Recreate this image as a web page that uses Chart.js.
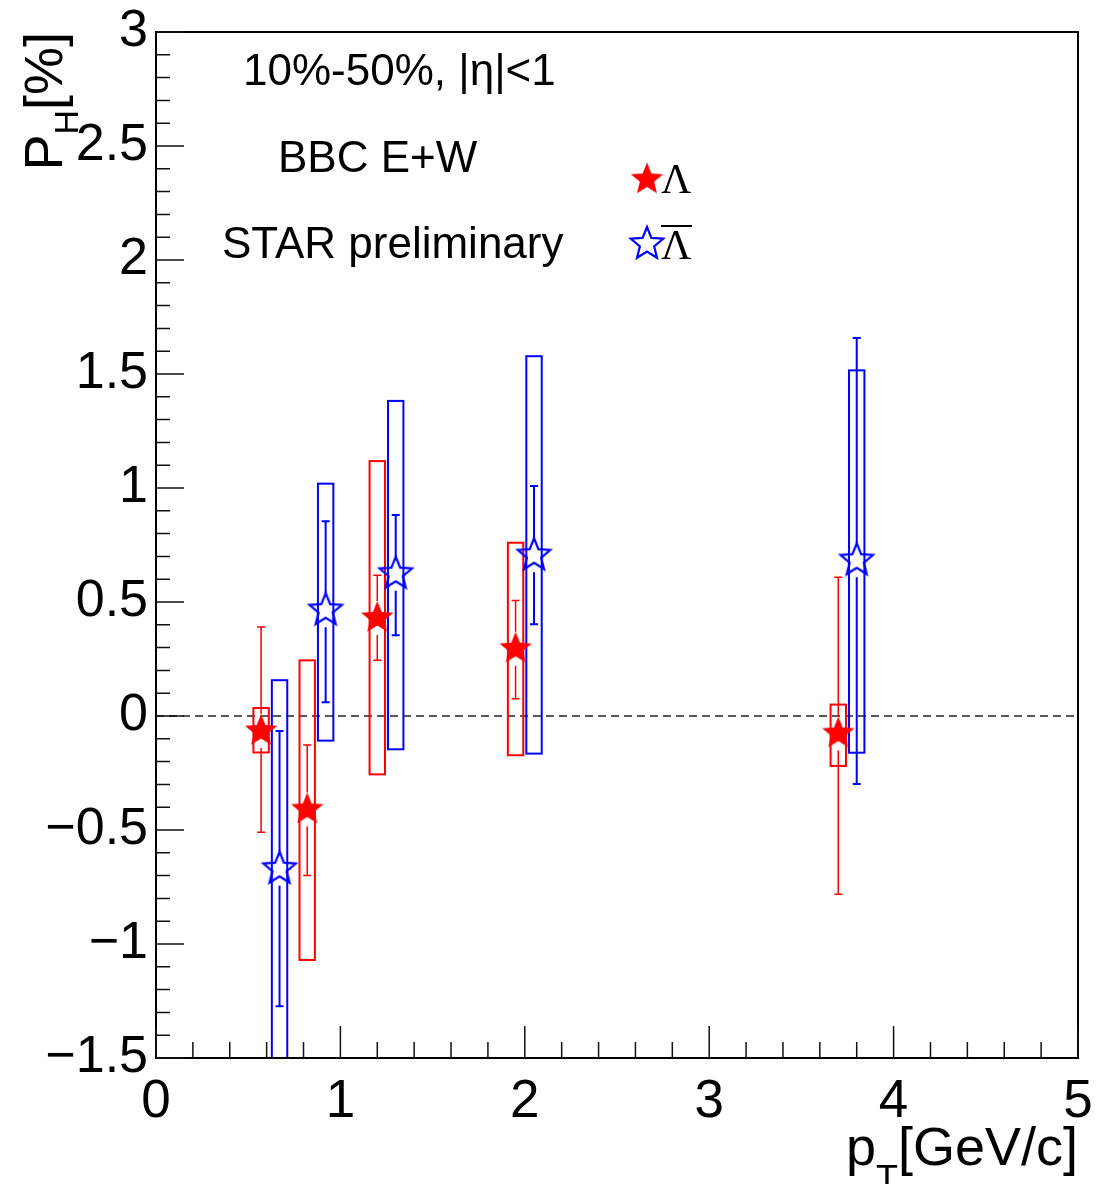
<!DOCTYPE html>
<html>
<head>
<meta charset="utf-8">
<title>Lambda global polarization vs pT</title>
<script src="https://cdn.jsdelivr.net/npm/chart.js@4.4.1/dist/chart.umd.min.js"></script>
<style>
  html, body { margin: 0; padding: 0; background: #fff; }
  #wrap { width: 1096px; height: 1184px; }
</style>
</head>
<body>
<div id="wrap"><canvas id="phChart" width="1096" height="1184"></canvas></div>
<script>
'use strict'

// ── Data ───────────────────────────────────────────────────────────────────
const lambdaPt       = [0.57, 0.82, 1.20, 1.95, 3.70]
const lambdaPH       = [-0.066, -0.41, 0.43, 0.295, -0.077]
const lambdaStatLow  = [-0.51, -0.70, 0.244, 0.076, -0.782]
const lambdaStatHigh = [0.39, -0.127, 0.617, 0.507, 0.609]
const lambdaSysLow   = [-0.16, -1.07, -0.256, -0.172, -0.219]
const lambdaSysHigh  = [0.035, 0.244, 1.118, 0.76, 0.05]

const antiPt       = [0.67, 0.92, 1.30, 2.05, 3.80]
const antiPH       = [-0.67, 0.464, 0.624, 0.705, 0.683]
const antiStatLow  = [-1.273, 0.06, 0.354, 0.402, -0.298]
const antiStatHigh = [-0.066, 0.854, 0.882, 1.009, 1.658]
const antiSysLow   = [-1.5, -0.108, -0.146, -0.165, -0.161]
const antiSysHigh  = [0.157, 1.019, 1.382, 1.578, 1.516]

const xTickValues = [0, 1, 2, 3, 4, 5]
const yTickValues = [-1.5, -1, -0.5, 0, 0.5, 1, 1.5, 2, 2.5, 3]

const infoLines = ['10%-50%, |η|<1', 'BBC E+W', 'STAR preliminary']

// ── Styling ────────────────────────────────────────────────────────────────
const RED = '#ff0000'
const BLUE = '#0000ff'
const SANS = '"Liberation Sans", Arial, Helvetica, sans-serif'
const SERIF = '"Liberation Serif", "Times New Roman", serif'
const STAR_R = 17
const BOX_HALF = 7.7   // px
const CAP_HALF = 4     // px

// ── Star markers (drawn once to canvases, used as pointStyle) ──────────────
function starPath(ctx, cx, cy, R, r) {
    ctx.beginPath()
    for (let i = 0; i < 10; i++) {
        const a = -Math.PI / 2 + i * Math.PI / 5
        const rad = i % 2 ? r : R
        const px = cx + rad * Math.cos(a), py = cy + rad * Math.sin(a)
        i ? ctx.lineTo(px, py) : ctx.moveTo(px, py)
    }
    ctx.closePath()
}

function makeStar(color, filled) {
    const size = Math.ceil(2 * STAR_R + 6)
    const c = document.createElement('canvas')
    c.width = size; c.height = size
    const ctx = c.getContext('2d')
    starPath(ctx, size / 2, size / 2, STAR_R, STAR_R * 0.44)
    if (filled) {
        ctx.fillStyle = color
        ctx.fill()
    } else {
        ctx.strokeStyle = color
        ctx.lineWidth = 2.2
        ctx.lineJoin = 'miter'
        ctx.stroke()
    }
    return c
}

const redStar = makeStar(RED, true)
const blueStar = makeStar(BLUE, false)

// ── Helpers ────────────────────────────────────────────────────────────────
const points = (xs, ys) => xs.map((x, i) => ({ x, y: ys[i] }))

const fmtY = v => {
    const r = Math.round(v * 10) / 10
    return (r < 0 ? '\u2212' : '') + String(Math.abs(r))
}

function drawSysBoxes(ctx, xs, lo, hi, sx, sy, color) {
    ctx.strokeStyle = color
    ctx.lineWidth = 2
    xs.forEach((x, i) => {
        const px = sx.getPixelForValue(x)
        const top = sy.getPixelForValue(hi[i])
        const bot = sy.getPixelForValue(lo[i])
        ctx.strokeRect(px - BOX_HALF, top, 2 * BOX_HALF, bot - top)
    })
}

function drawStatBars(ctx, xs, ys, lo, hi, sx, sy, color, width) {
    ctx.strokeStyle = color
    ctx.lineWidth = width
    xs.forEach((x, i) => {
        const px = sx.getPixelForValue(x)
        const pc = sy.getPixelForValue(ys[i])
        const top = sy.getPixelForValue(hi[i])
        const bot = sy.getPixelForValue(lo[i])
        ctx.beginPath()
        if (top < pc - STAR_R) { ctx.moveTo(px, top); ctx.lineTo(px, pc - STAR_R) }
        if (bot > pc + STAR_R) { ctx.moveTo(px, pc + STAR_R); ctx.lineTo(px, bot) }
        ctx.moveTo(px - CAP_HALF, top); ctx.lineTo(px + CAP_HALF, top)
        ctx.moveTo(px - CAP_HALF, bot); ctx.lineTo(px + CAP_HALF, bot)
        ctx.stroke()
    })
}

// ── Plugin: zero line, systematic boxes, error bars, frame and text ────────
const rootStyle = {
    id: 'rootStyle',
    beforeDatasetsDraw(chart) {
        const { ctx, chartArea: a, scales: { x: sx, y: sy } } = chart
        ctx.save()
        ctx.beginPath()
        ctx.rect(a.left, a.top, a.right - a.left, a.bottom - a.top)
        ctx.clip()

        // dashed zero line
        const y0 = sy.getPixelForValue(0)
        ctx.strokeStyle = '#222'
        ctx.lineWidth = 1.5
        ctx.setLineDash([8, 5])
        ctx.beginPath()
        ctx.moveTo(a.left, y0); ctx.lineTo(a.right, y0)
        ctx.stroke()
        ctx.setLineDash([])

        drawSysBoxes(ctx, lambdaPt, lambdaSysLow, lambdaSysHigh, sx, sy, RED)
        drawSysBoxes(ctx, antiPt, antiSysLow, antiSysHigh, sx, sy, BLUE)
        drawStatBars(ctx, lambdaPt, lambdaPH, lambdaStatLow, lambdaStatHigh, sx, sy, RED, 1.5)
        drawStatBars(ctx, antiPt, antiPH, antiStatLow, antiStatHigh, sx, sy, BLUE, 2)
        ctx.restore()
    },
    afterDatasetsDraw(chart) {
        const { ctx, chartArea: a, scales: { x: sx, y: sy } } = chart
        ctx.save()

        // frame
        ctx.strokeStyle = '#000'
        ctx.lineWidth = 2
        ctx.strokeRect(a.left, a.top, a.right - a.left, a.bottom - a.top)

        // inward ticks
        ctx.strokeStyle = '#111'
        ctx.lineWidth = 1.5
        ctx.beginPath()
        for (let k = 0; k <= 25; k++) {
            const px = sx.getPixelForValue(k * 0.2)
            const len = k % 5 === 0 ? 32 : 16
            ctx.moveTo(px, a.bottom); ctx.lineTo(px, a.bottom - len)
        }
        for (let k = 0; k <= 45; k++) {
            const py = sy.getPixelForValue(-1.5 + k * 0.1)
            const len = k % 5 === 0 ? 28 : 14
            ctx.moveTo(a.left, py); ctx.lineTo(a.left + len, py)
        }
        ctx.stroke()

        ctx.fillStyle = '#000'
        ctx.textBaseline = 'alphabetic'

        // x title: p_T[GeV/c]
        ctx.font = '54px ' + SANS
        const wp = ctx.measureText('p').width
        const wg = ctx.measureText('[GeV/c]').width
        ctx.font = '36px ' + SANS
        const wt = ctx.measureText('T').width
        const xs = a.right - (wp + wt + wg)
        ctx.textAlign = 'left'
        ctx.font = '54px ' + SANS
        ctx.fillText('p', xs, 1165)
        ctx.font = '36px ' + SANS
        ctx.fillText('T', xs + wp, 1191)
        ctx.font = '54px ' + SANS
        ctx.fillText('[GeV/c]', xs + wp + wt, 1165)

        // y title: P_H[%] (rotated)
        ctx.save()
        ctx.translate(62, a.top)
        ctx.rotate(-Math.PI / 2)
        ctx.font = '54px ' + SANS
        const wP = ctx.measureText('P').width
        const wB = ctx.measureText('[%]').width
        ctx.font = '34px ' + SANS
        const wH = ctx.measureText('H').width
        const ys0 = -(wP + wH + wB)
        ctx.font = '54px ' + SANS
        ctx.fillText('P', ys0, 0)
        ctx.font = '34px ' + SANS
        ctx.fillText('H', ys0 + wP, 16)
        ctx.font = '54px ' + SANS
        ctx.fillText('[%]', ys0 + wP + wH, 0)
        ctx.restore()

        // info text
        ctx.font = '44px ' + SANS
        ctx.fillText(infoLines[0], 243, 85)
        ctx.fillText(infoLines[1], 278, 172)
        ctx.fillText(infoLines[2], 222, 258)

        // legend
        ctx.drawImage(redStar, 647 - redStar.width / 2, 179.5 - redStar.height / 2)
        ctx.drawImage(blueStar, 647 - blueStar.width / 2, 244 - blueStar.height / 2)
        ctx.font = '42px ' + SERIF
        ctx.fillText('Λ', 661, 193)
        ctx.fillText('Λ', 661, 259)
        ctx.strokeStyle = '#000'
        ctx.lineWidth = 2
        ctx.beginPath()
        ctx.moveTo(661, 226); ctx.lineTo(692, 226)
        ctx.stroke()

        ctx.restore()
    }
}

// ── Chart ──────────────────────────────────────────────────────────────────
const chart = new Chart(document.getElementById('phChart'), {
    type: 'scatter',
    data: {
        datasets: [{
            label: 'Λ',
            data: points(lambdaPt, lambdaPH),
            pointStyle: redStar,
            pointRadius: STAR_R,
            pointHoverRadius: STAR_R
        }, {
            label: 'anti-Λ',
            data: points(antiPt, antiPH),
            pointStyle: blueStar,
            pointRadius: STAR_R,
            pointHoverRadius: STAR_R
        }]
    },
    options: {
        responsive: false,
        animation: false,
        layout: { padding: { top: 32, right: 15, left: 0, bottom: 0 } },
        plugins: { legend: { display: false }, tooltip: { enabled: false } },
        scales: {
            x: {
                type: 'linear',
                min: 0, max: 5,
                afterBuildTicks: s => { s.ticks = xTickValues.map(v => ({ value: v })) },
                afterFit: s => {
                    s.height = 126
                    s.paddingLeft = 0; s.paddingRight = 0
                },
                grid: { display: false, drawTicks: false, tickLength: 0 },
                border: { display: false },
                ticks: {
                    color: '#000', padding: 13, maxRotation: 0, autoSkip: false,
                    font: { family: SANS, size: 53 },
                    callback: v => String(v)
                }
            },
            y: {
                type: 'linear',
                min: -1.5, max: 3,
                afterBuildTicks: s => { s.ticks = yTickValues.map(v => ({ value: v })) },
                afterFit: s => {
                    s.width = 156
                    s.paddingTop = 0; s.paddingBottom = 0
                },
                grid: { display: false, drawTicks: false, tickLength: 0 },
                border: { display: false },
                ticks: {
                    color: '#000', padding: 8, autoSkip: false,
                    font: { family: SANS, size: 52 },
                    callback: v => fmtY(v)
                }
            }
        }
    },
    plugins: [rootStyle]
})
</script>
</body>
</html>
